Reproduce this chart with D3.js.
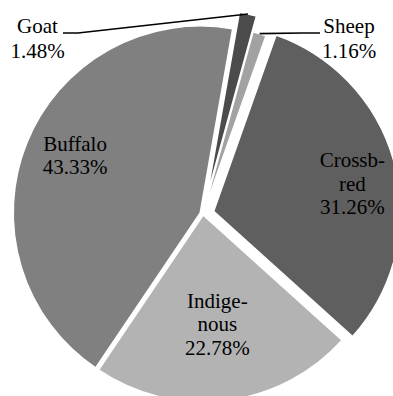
<!DOCTYPE html>
<html><head><meta charset="utf-8">
<script src="https://cdn.jsdelivr.net/npm/d3@7"></script>
<style>html,body{margin:0;padding:0;background:#fff;overflow:hidden}
svg text{font-family:"Liberation Serif","DejaVu Serif","Times New Roman",serif;font-size:21px;fill:#000}</style>
</head><body>
<svg id="chart" width="393" height="396"></svg>
<script>
// ---- data ----
const categories = ["Goat", "Sheep", "Crossbred", "Indigenous", "Buffalo"];
const values = [1.48, 1.16, 31.26, 22.78, 43.33];
const nameLines = [["Goat"], ["Sheep"], ["Crossb-", "red"], ["Indige-", "nous"], ["Buffalo"]];
const valueLabels = ["1.48%", "1.16%", "31.26%", "22.78%", "43.33%"];

// ---- style / layout ----
const colors = ["#4b4b4b", "#a2a2a2", "#5f5f5f", "#b3b3b3", "#808080"];
const explode = [18, 2, 11, 1, 3];
const labelRadius = [0, 0, 140, 117, 135];
const labelNudge = [[0, 0], [0, 0], [3, 14], [0, 0], [0, 0]];
const outside = {0: {x: 37.5, y: 33, lineFrom: [63, 33], elbow: [78, 33], anchor: "middle"},
                 1: {x: 349, y: 33, lineFrom: [320, 33], elbow: [302, 33], anchor: "middle"}};
const W = 393, H = 396, cx = 203, cy = 214, R = 187, lineH = 23.5;
const startDeg = 10;

const svg = d3.select("#chart");
const g = svg.append("g");

const pie = d3.pie().sort(null).value(d => d)
  .startAngle(startDeg * Math.PI / 180)
  .endAngle(startDeg * Math.PI / 180 + 2 * Math.PI);
const arcs = pie(values);
const arc = d3.arc().innerRadius(0).outerRadius(R);

const dir = a => [Math.sin(a), -Math.cos(a)];

arcs.forEach((a, i) => {
  const mid = (a.startAngle + a.endAngle) / 2;
  const [ux, uy] = dir(mid);
  const ox = cx + ux * explode[i], oy = cy + uy * explode[i];
  g.append("path")
    .attr("d", arc(a))
    .attr("transform", `translate(${ox},${oy})`)
    .attr("fill", colors[i])
    .attr("stroke", "#fff")
    .attr("stroke-width", 1.5)
    .attr("stroke-linejoin", "miter");
});

arcs.forEach((a, i) => {
  const mid = (a.startAngle + a.endAngle) / 2;
  const [ux, uy] = dir(mid);
  const ox = cx + ux * explode[i], oy = cy + uy * explode[i];
  const lines = nameLines[i].concat([valueLabels[i]]);
  let px, py;
  if (outside[i]) {
    const o = outside[i];
    px = o.x; py = o.y;
    const tip = [ox + ux * R, oy + uy * R];
    g.append("polyline")
      .attr("points", [o.lineFrom, o.elbow, tip].map(p => p.join(",")).join(" "))
      .attr("fill", "none").attr("stroke", "#000").attr("stroke-width", 1.7);
    const t = g.append("text").attr("text-anchor", o.anchor);
    lines.forEach((s, k) => t.append("tspan").attr("x", px).attr("y", py + k * lineH + (k ? 1 : 0)).text(s));
  } else {
    px = ox + ux * labelRadius[i] + labelNudge[i][0];
    py = oy + uy * labelRadius[i] + labelNudge[i][1];
    const first = py - (lines.length - 1) * lineH / 2;
    const t = g.append("text").attr("text-anchor", "middle");
    lines.forEach((s, k) => t.append("tspan").attr("x", px).attr("y", first + k * lineH).text(s));
  }
});
</script>
</body></html>
